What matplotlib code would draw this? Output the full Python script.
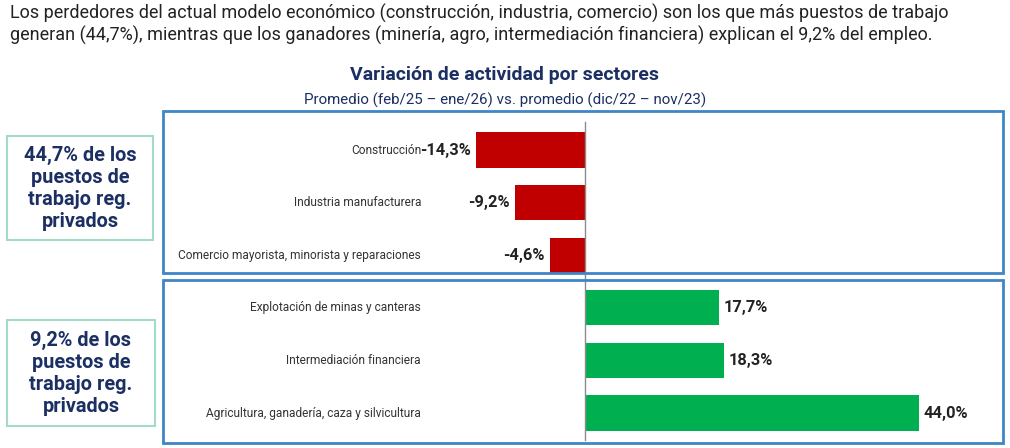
import matplotlib
matplotlib.use("Agg")
import matplotlib.pyplot as plt
from matplotlib.patches import Rectangle
import matplotlib.transforms as mtransforms

# ---------------- data ----------------
categories = ["Construcción", "Industria manufacturera",
              "Comercio mayorista, minorista y reparaciones",
              "Explotación de minas y canteras", "Intermediación financiera",
              "Agricultura, ganadería, caza y silvicultura"]
values = [-14.3, -9.2, -4.6, 17.7, 18.3, 44.0]
value_labels = ["-14,3%", "-9,2%", "-4,6%", "17,7%", "18,3%", "44,0%"]
headline = ("Los perdedores del actual modelo económico (construcción, industria, comercio) son los que más puestos de trabajo\n"
            "generan (44,7%), mientras que los ganadores (minería, agro, intermediación financiera) explican el 9,2% del empleo.")
title = "Variación de actividad por sectores"
subtitle = "Promedio (feb/25 – ene/26) vs. promedio (dic/22 – nov/23)"
box_texts = ["44,7% de los\npuestos de\ntrabajo reg.\nprivados",
             "9,2% de los\npuestos de\ntrabajo reg.\nprivados"]

FAM = ["Roboto", "DejaVu Sans"]
plt.rcParams['font.family'] = FAM

W, H = 1010, 448
fig = plt.figure(figsize=(W / 100, H / 100), dpi=100)

def fx(px):
    return px / W

def fy(py):
    return 1 - py / H

NAVY = "#1B2F63"
RED = "#C00000"
GREEN = "#00B050"
BLUE = "#3F86C8"
MINT = "#A3DBC5"

# headline
fig.text(fx(10), fy(4), headline, ha="left", va="top", fontsize=13,
         color="#222222", linespacing=1.2)
fig.text(fx(504), fy(75), title, ha="center", va="center", fontsize=14,
         fontweight="bold", color=NAVY)
fig.text(fx(505), fy(100), subtitle, ha="center", va="center", fontsize=10.9,
         color=NAVY)

# axes
x0, x1 = 163, 1003
ytop, ybot = 111, 443
ax = fig.add_axes([fx(x0), fy(ybot), fx(x1) - fx(x0), (ybot - ytop) / H])
ppu = 7.6
zero_px = 584.5
ax.set_xlim((x0 - zero_px) / ppu, (x1 - zero_px) / ppu)
spacing = 52.6
c0 = 150
ax.set_ylim((ybot - c0) / spacing, (ytop - c0) / spacing)
ax.axis("off")

ypos = list(range(len(categories)))
colors = [RED if v < 0 else GREEN for v in values]
ax.barh(ypos, values, height=0.67, color=colors, zorder=2)
ax.axvline(0, ymin=(ybot - 440) / (ybot - ytop), ymax=(ybot - 122) / (ybot - ytop),
           color="#8C8C8C", lw=1, zorder=3)

lab_x = (421 - x0) / (x1 - x0)
trans = mtransforms.blended_transform_factory(ax.transAxes, ax.transData)
for y, cat in zip(ypos, categories):
    ax.text(lab_x, y, cat, transform=trans, ha="right", va="center", fontsize=8.6,
            color="#333333")

for y, v, lab in zip(ypos, values, value_labels):
    off = 0.6
    if v < 0:
        ax.text(v - off, y, lab, ha="right", va="center", fontsize=11.8,
                fontweight="bold", color="#222222")
    else:
        ax.text(v + off, y, lab, ha="left", va="center", fontsize=11.8,
                fontweight="bold", color="#222222")

# group boxes
for (t, b) in [(111, 273), (280, 443)]:
    fig.add_artist(Rectangle((fx(163), fy(b)), fx(1003) - fx(163), (b - t) / H,
                             transform=fig.transFigure, fill=False,
                             edgecolor=BLUE, lw=2, zorder=5))

# left boxes
for (t, b, l, r), txt in zip([(136, 240, 7, 153), (320, 426, 7, 155)], box_texts):
    fig.add_artist(Rectangle((fx(l), fy(b)), fx(r) - fx(l), (b - t) / H,
                             transform=fig.transFigure, fill=False,
                             edgecolor=MINT, lw=1.5))
    fig.text(fx((l + r) / 2), fy((t + b) / 2), txt, ha="center", va="center",
             fontsize=14.3, fontweight="bold", color=NAVY, linespacing=1.2)

fig.savefig("out.png", dpi=100)
